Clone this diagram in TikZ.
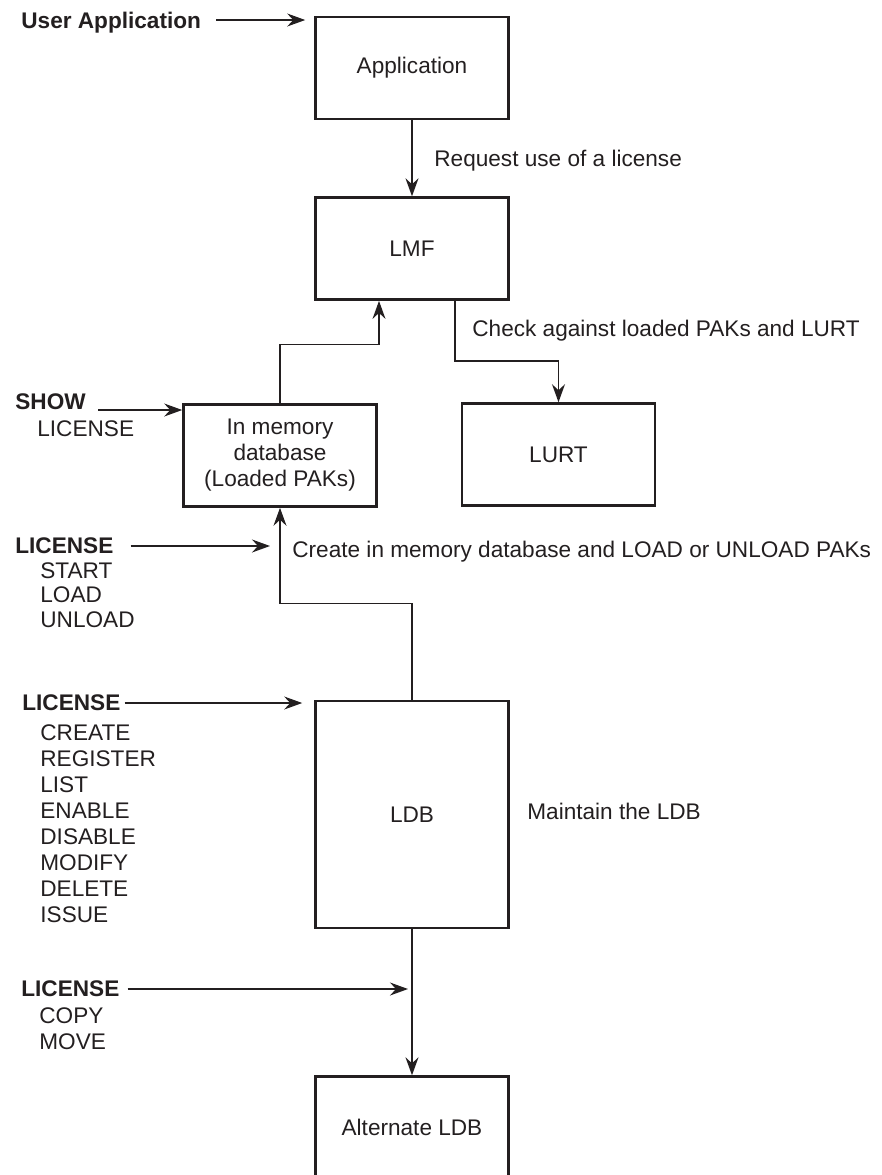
\documentclass[tikz,border=0pt]{standalone}
\usepackage{fontspec}
\setmainfont{Liberation Sans}
\usetikzlibrary{positioning}
\usetikzlibrary{arrows.meta}
\definecolor{ink}{HTML}{231F20}

\begin{document}
\begin{tikzpicture}[x=0.5pt, y=-0.5pt, >={Stealth[length=9pt,width=6.5pt,inset=3pt]},
    font=\fontsize{11.3}{13}\selectfont, color=ink]

        \tikzstyle{box}  = [rectangle, draw=ink, line width=1.3pt, minimum width=96.5pt,
            minimum height=51pt, align=center, inner sep=0pt]
        \tikzstyle{head} = [font=\fontsize{11.3}{13}\selectfont\bfseries, anchor=west,
            inner sep=0pt, text depth=0pt]
        \tikzstyle{item} = [anchor=base west, inner sep=0pt]
        \tikzstyle{link} = [->, line width=0.65pt, draw=ink]

        \useasboundingbox (0,0) rectangle (882,1175);

        \node[box]                                      (app)   at (412,68)    {Application};
        \node[box, below=38pt of app]                   (lmf)                  {LMF};
        \node[box]                                      (mem)   at (280,455.5) {In memory\\ database\\ (Loaded PAKs)};
        \node[box]                                      (lurt)  at (558.5,454.5) {LURT};
        \node[box, minimum height=113.5pt]              (ldb)   at (412,814.5) {LDB};
        \node[box, below=73pt of ldb]                   (alt)                  {Alternate LDB};

        \node[item] (req) at (434,166) {Request use of a license};
        \node[item] (chk) at (472,336) {Check against loaded PAKs and LURT};
        \node[item] (crt) at (292,557) {Create in memory database and LOAD or UNLOAD PAKs};
        \node[item] (mnt) at (527,819) {Maintain the LDB};

        \node[head] (user)   at (21,20)  {User Application};
        \node[head] (show)   at (15,402) {SHOW};
        \node[item] (showl)  at (37,436) {LICENSE};
        \node[head] (lstart) at (15,546) {LICENSE};
        \node[head] (lmain)  at (22,703) {LICENSE};
        \node[head] (lcopy)  at (21,989) {LICENSE};

        \foreach \w [count=\i] in {START,LOAD,UNLOAD}
            \node[item] (start\i) at (40,{578+24.5*(\i-1)}) {\w};
        \foreach \w [count=\i] in {CREATE,REGISTER,LIST,ENABLE,DISABLE,MODIFY,DELETE,ISSUE}
            \node[item] (main\i) at (40,{740+26*(\i-1)}) {\w};
        \foreach \w [count=\i] in {COPY,MOVE}
            \node[item] (copy\i) at (39,{1023+26*(\i-1)}) {\w};

        \draw[link] (app) -- (lmf);
        \draw[link] ([xshift=21.5pt]lmf.south) -- ++(0,60) -| (lurt.north);
        \draw[link] (mem.north) -- ++(0,-59) -| ([xshift=-16.5pt]lmf.south);
        \draw[link] (ldb.north) -- ++(0,-96) -| (mem.south);
        \draw[link] (ldb) -- (alt);

        \draw[link, shorten <=7.5pt, shorten >=4.5pt] (user.east) -- (user.east -| app.west);
        \draw[link, shorten <=6pt] ([yshift=-4pt]show.east) -- ([yshift=-4pt]show.east -| mem.west);
        \draw[link, shorten <=8.5pt, shorten >=5pt] (lstart.east) -- (lstart.east -| mem.south);
        \draw[link, shorten <=2pt, shorten >=6pt] (lmain.east) -- (lmain.east -| ldb.west);
        \draw[link, shorten <=4pt, shorten >=2pt] (lcopy.east) -- (lcopy.east -| ldb.south);

      \end{tikzpicture}
\end{document}
